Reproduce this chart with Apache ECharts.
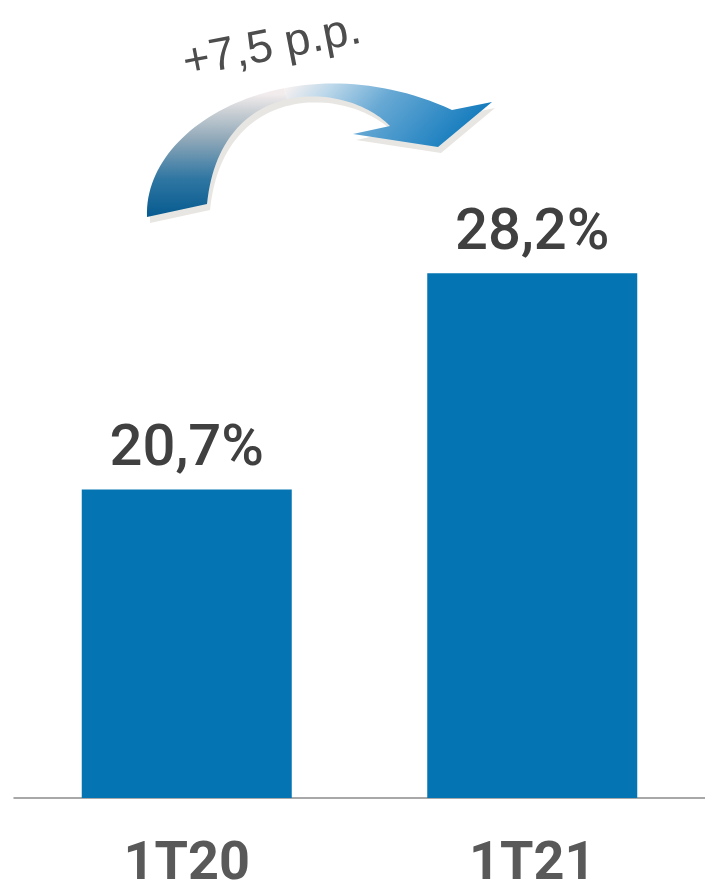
<!DOCTYPE html>
<html>
<head>
<meta charset="utf-8">
<script src="https://cdn.jsdelivr.net/npm/echarts@6/dist/echarts.min.js"></script>
<style>
html,body{margin:0;padding:0;background:#fff;}
#chart{width:705px;height:892px;}
</style>
</head>
<body>
<div id="chart"></div>
<script>
// Data
var categories = ['1T20', '1T21'];
var values = [20.7, 28.2];
var changeLabel = '+7,5 p.p.';

// Arrow outline helpers (decoration only)
function cubic(p0, p1, p2, p3, n) {
  var pts = [];
  for (var i = 0; i <= n; i++) {
    var t = i / n, u = 1 - t;
    var a = u*u*u, b = 3*u*u*t, c = 3*u*t*t, d = t*t*t;
    pts.push([a*p0[0]+b*p1[0]+c*p2[0]+d*p3[0], a*p0[1]+b*p1[1]+c*p2[1]+d*p3[1]]);
  }
  return pts;
}
var outer = cubic([147,217],[143,120],[300,40],[452,110], 60);
var head = [[492,102],[438,147],[353,134],[390,126]];
var inner = cubic([390,126],[345,80],[220,75],[207,204], 60); // from notch back to bottom
var SPLIT = 285;
function splitCurve(pts, leftSide) {
  var out = [];
  for (var i = 0; i < pts.length; i++) {
    var p = pts[i];
    if (leftSide ? p[0] <= SPLIT + 2 : p[0] >= SPLIT - 2) out.push(p);
  }
  return out;
}
var outerL = splitCurve(outer, true);
var outerR = splitCurve(outer, false);
var innerR = splitCurve(inner, false);
var innerL = splitCurve(inner, true);
var leftPts = outerL.concat(innerL);
var rightPts = outerR.concat(head).concat(innerR);
var fullPts = outer.concat(head).concat(inner.slice(1));
var shadowPts = fullPts.map(function(p){ return [p[0]+3, p[1]+6]; });

var chart = echarts.init(document.getElementById('chart'), null, {renderer:'canvas'});
chart.setOption({
  animation: false,
  backgroundColor: '#ffffff',
  grid: { left: 14, right: -4, top: 221.4, bottom: 91, containLabel: false },
  xAxis: {
    type: 'category',
    data: categories,
    axisLine: { show: true, lineStyle: { color: '#8c8c8c', width: 1.5 } },
    axisTick: { show: false },
    axisLabel: { margin: 40, color: '#595959', fontSize: 54, fontWeight: 'bold', fontFamily: 'Roboto, "Liberation Sans", Arial, sans-serif' }
  },
  yAxis: { type: 'value', min: 10, max: 30, show: false, splitLine: { show: false } },
  series: [{
    type: 'bar',
    data: values,
    barWidth: 210,
    itemStyle: { color: '#0474B2' },
    label: {
      show: true,
      position: 'top',
      distance: 10,
      color: '#404040',
      fontSize: 58,
      fontWeight: 500,
      fontFamily: 'Roboto, "Liberation Sans", Arial, sans-serif',
      formatter: function(p){ return p.value.toFixed(1).replace('.', ',') + '%'; }
    }
  }],
  graphic: [
    { type: 'polygon', shape: { points: shadowPts }, style: { fill: '#e8e6e2' }, z: 1 },
    { type: 'polygon', shape: { points: leftPts }, z: 2,
      style: { fill: { type: 'linear', x: 0, y: 215, x2: 0, y2: 94, global: true,
        colorStops: [
          { offset: 0, color: '#085c91' },
          { offset: 0.3, color: '#2f76a2' },
          { offset: 0.62, color: '#8ea7b8' },
          { offset: 0.85, color: '#c9cfd4' },
          { offset: 1, color: '#f2eced' }
        ] } } },
    { type: 'polygon', shape: { points: rightPts }, z: 2,
      style: { fill: { type: 'linear', x: 285, y: 90, x2: 440, y2: 230, global: true,
        colorStops: [
          { offset: 0, color: '#f5f0f0' },
          { offset: 0.15, color: '#bdd8ea' },
          { offset: 0.38, color: '#68a9d4' },
          { offset: 0.6, color: '#3a90c8' },
          { offset: 0.78, color: '#157cbd' },
          { offset: 1, color: '#0a70b0' }
        ] } } },
    { type: 'text', x: 272, y: 47, rotation: 11 * Math.PI / 180, z: 3,
      style: { text: changeLabel, fill: '#4d4d4d', font: '46px "Liberation Sans", Arial, sans-serif',
        textAlign: 'center', textVerticalAlign: 'middle' } }
  ]
});
</script>
</body>
</html>
